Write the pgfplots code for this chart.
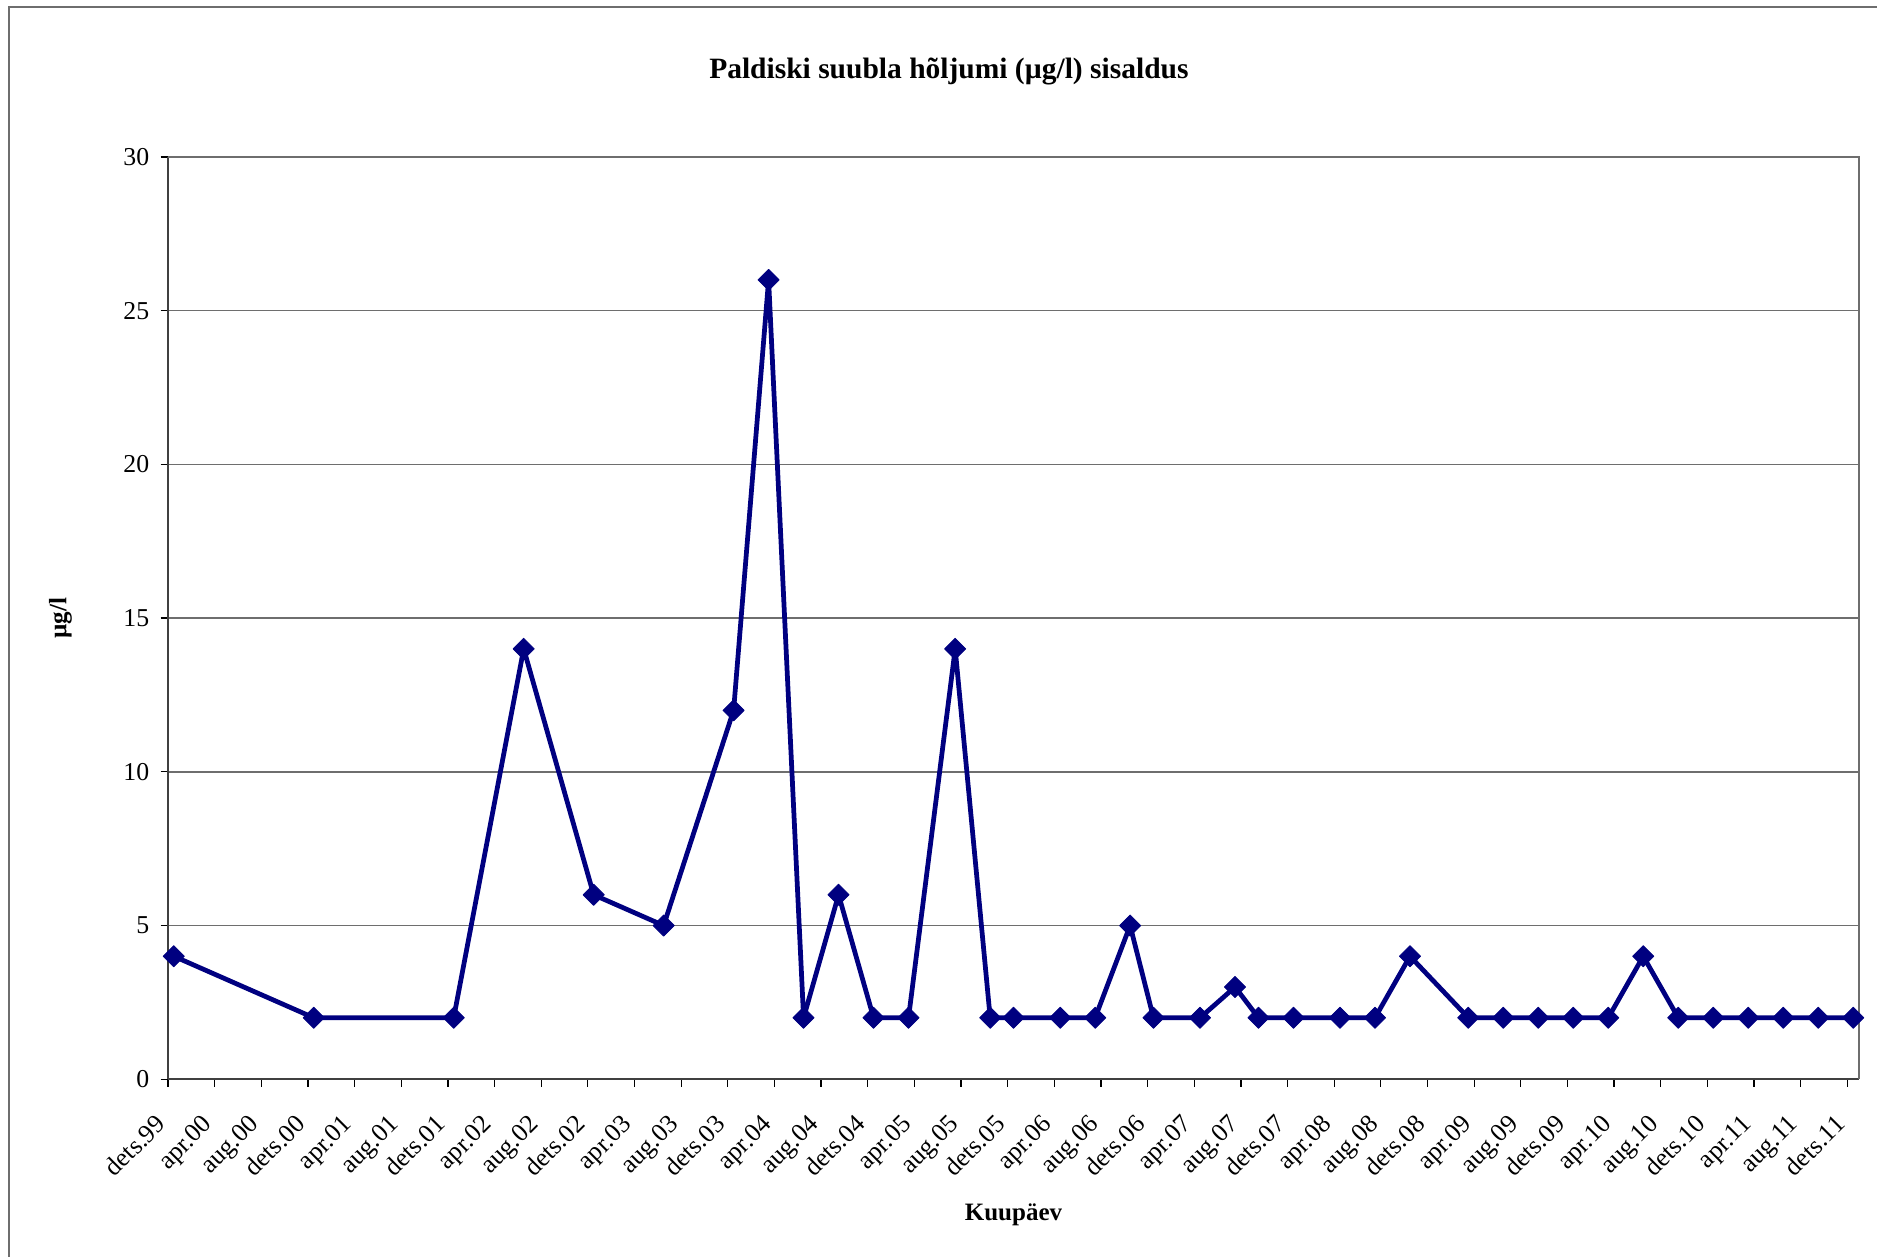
\documentclass[border=0pt]{standalone}
\usepackage{fontspec}
\setmainfont{Liberation Serif}
\usepackage{pgfplots}
\pgfplotsset{compat=1.18}
\definecolor{navyline}{RGB}{0,0,128}
\definecolor{gridgray}{RGB}{110,110,110}

\begin{document}
\begin{tikzpicture}
\useasboundingbox (0,0) rectangle (750.8pt,502.8pt);
% chart frame (only left and top edges are inside the picture)
\draw[gridgray, line width=0.8pt] (3.4pt,-10pt) -- (3.4pt,499.9pt) -- (800pt,499.9pt);
\begin{axis}[
  at={(67.2pt,71.1pt)}, anchor=south west,
  scale only axis, width=676.4pt, height=368.9pt,
  xmin=0, xmax=145, ymin=0, ymax=30,
  axis x line*=bottom, axis y line*=left,
  axis line style={black!75, line width=0.8pt},
  tick align=outside, major tick length=3pt,
  tick style={black, line width=0.5pt},
  ytick={0,5,...,30},
  xtick={0,4,...,144},
  xticklabels={dets.99,apr.00,aug.00,dets.00,apr.01,aug.01,dets.01,apr.02,aug.02,dets.02,apr.03,aug.03,dets.03,apr.04,aug.04,dets.04,apr.05,aug.05,dets.05,apr.06,aug.06,dets.06,apr.07,aug.07,dets.07,apr.08,aug.08,dets.08,apr.09,aug.09,dets.09,apr.10,aug.10,dets.10,apr.11,aug.11,dets.11},
  ymajorgrids, grid style={gridgray, line width=0.6pt},
  /pgf/number format/assume math mode=true,
  tick label style={font=\fontsize{10.3}{12}\selectfont},
  x tick label style={xshift=-5.5pt, yshift=-5.6pt, rotate=45, anchor=north east},
  y tick label style={xshift=-1pt},
  title={Paldiski suubla hõljumi (µg/l) sisaldus},
  title style={font=\fontsize{11.8}{13}\selectfont\bfseries, at={(axis description cs:0.4618,1.0767)}, anchor=center},
  xlabel={Kuupäev},
  xlabel style={font=\fontsize{10}{12}\selectfont\bfseries, at={(axis description cs:0.5,-0.1467)}, anchor=center},
  ylabel={µg/l},
  ylabel style={font=\fontsize{10}{12}\selectfont\bfseries, at={(axis description cs:-0.0636,0.5)}, anchor=center},
  clip=false,
]
\addplot[navyline, line width=1.9pt, line join=round, mark=square*, mark size=3pt,
  mark options={rotate=45, solid, fill=navyline, draw=navyline, line width=0.3pt}]
  coordinates {
  (0.5,4)(12.5,2)(24.5,2)(30.5,14)(36.5,6)(42.5,5)(48.5,12)(51.5,26)
  (54.5,2)(57.5,6)(60.5,2)(63.5,2)(67.5,14)(70.5,2)(72.5,2)(76.5,2)
  (79.5,2)(82.5,5)(84.5,2)(88.5,2)(91.5,3)(93.5,2)(96.5,2)(100.5,2)
  (103.5,2)(106.5,4)(111.5,2)(114.5,2)(117.5,2)(120.5,2)(123.5,2)(126.5,4)
  (129.5,2)(132.5,2)(135.5,2)(138.5,2)(141.5,2)(144.5,2)
  };
% gray plot-area border on the right and top
\draw[gridgray, line width=0.8pt] (rel axis cs:0,1) -- (rel axis cs:1,1) -- (rel axis cs:1,0);
\end{axis}
\end{tikzpicture}
\end{document}
